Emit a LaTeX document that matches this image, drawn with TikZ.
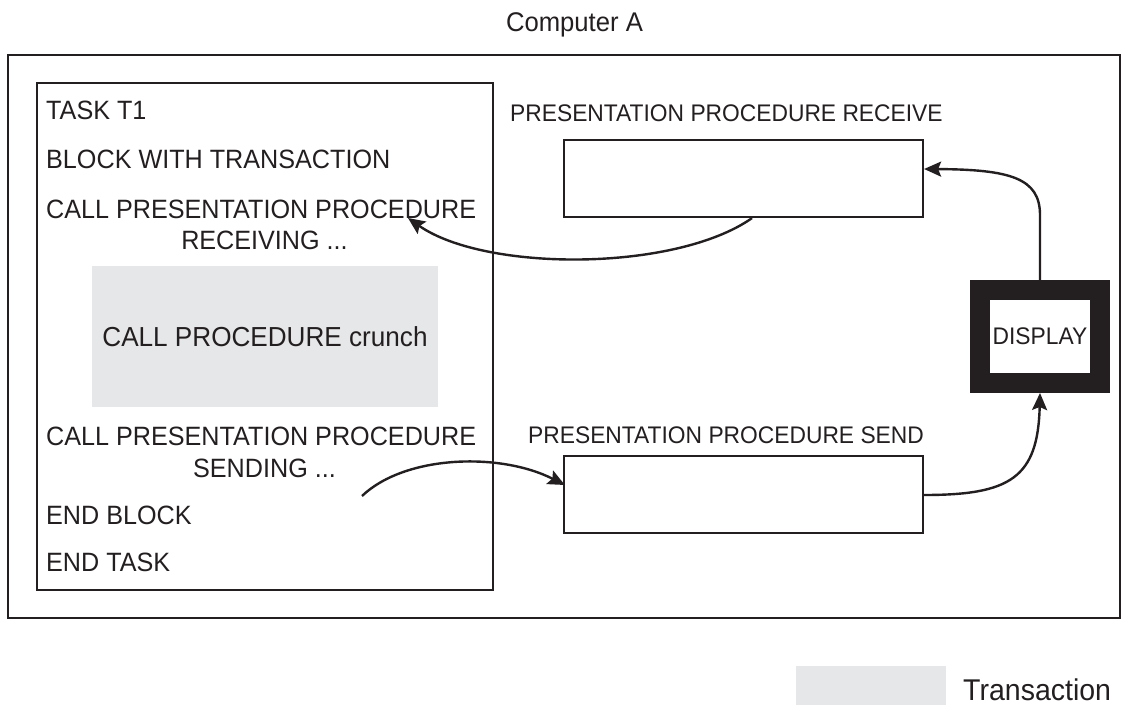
\documentclass[tikz,border=0pt]{standalone}
\usepackage{fontspec}
\setmainfont{Liberation Sans}[FakeStretch=0.95]
\usetikzlibrary{arrows.meta,calc}
\definecolor{ink}{HTML}{231F20}
\definecolor{txgray}{HTML}{E6E7E8}
\newcommand\szLeft{\fontsize{26.5}{32}\selectfont}
\newcommand\szCrunch{\fontsize{27.5}{32}\selectfont}
\newcommand\szRight{\fontsize{24}{29}\selectfont}
\newcommand\szTitle{\fontsize{27}{32}\selectfont}
\newcommand\szLegend{\fontsize{30}{34}\selectfont}
\begin{document}
\begin{tikzpicture}[x=1pt,y=-1pt,
  box/.style={draw=ink, line width=2.2pt, fill=white, inner sep=0pt},
  lbl/.style={inner sep=0pt, text=ink, font=\szLeft, anchor=base west},
  rlbl/.style={inner sep=0pt, text=ink, font=\szRight, anchor=base west},
  conn/.style={draw=ink, line width=2.4pt, -{Stealth[length=17pt,width=15pt,inset=3pt]}}]
\useasboundingbox (0,0) rectangle (1128,706);

% title
\node[inner sep=0pt, text=ink, font=\szTitle, anchor=base] (title) at (574.5,32) {Computer A};

% outer computer frame
\node[box, minimum width=1112pt, minimum height=563pt] (outer) at (564,336.5) {};

% task box
\node[box, minimum width=456pt, minimum height=507pt] (task) at (265,336.5) {};
\node[fill=txgray, inner sep=0pt, minimum width=346pt, minimum height=141pt, text=ink, font=\szCrunch] (txn) at (265,336.5) {CALL PROCEDURE crunch};

\node[lbl] (t1) at (46,119.5) {TASK T1};
\node[lbl] (t2) at (46,168) {BLOCK WITH TRANSACTION};
\node[lbl] (t3) at (46,218.5) {CALL PRESENTATION PROCEDURE};
\node[lbl, anchor=base] (t4) at (264.5,249.5) {RECEIVING ...};
\node[lbl] (t5) at (46,445.5) {CALL PRESENTATION PROCEDURE};
\node[lbl, anchor=base] (t6) at (264.5,477.5) {SENDING ...};
\node[lbl] (t7) at (46,524.5) {END BLOCK};
\node[lbl] (t8) at (46,571.5) {END TASK};

% presentation procedures
\node[rlbl] (rcvlbl) at (510,122) {PRESENTATION PROCEDURE RECEIVE};
\node[box, minimum width=359pt, minimum height=77pt] (recv) at (743.5,178.5) {};
\node[rlbl] (sndlbl) at (528,443) {PRESENTATION PROCEDURE SEND};
\node[box, minimum width=359pt, minimum height=77pt] (send) at (743.5,494.5) {};

% display
\node[draw=ink, line width=20pt, fill=white, inner sep=0pt, minimum width=120pt, minimum height=93pt, text=ink, font=\szRight] (disp) at (1040,336.5) {DISPLAY};

% connectors
\coordinate (rcvtip) at (408,218);
\coordinate (sndstart) at (362,496);
\draw[conn] ($(recv.south)+(8.5,0)$) .. controls (675,272) and (485,272) .. (rcvtip);
\draw[conn] (disp.north) -- (1040,215) .. controls (1040,178) and (1010,169.5) .. ($(recv.east)+(0,-9.5)$);
\draw[conn] (sndstart) .. controls (405,455) and (500,452) .. ($(send.west)+(2,-9.5)$);
\draw[conn] ($(send.east)+(0,0.5)$) .. controls (1010,495) and (1038,478) .. (disp.south);

% legend
\node[fill=txgray, inner sep=0pt, minimum width=150pt, minimum height=39pt] (leg) at (871,685.5) {};
\node[inner sep=0pt, text=ink, font=\szLegend, anchor=base west] (legtxt) at (963,700) {Transaction};
\end{tikzpicture}
\end{document}
